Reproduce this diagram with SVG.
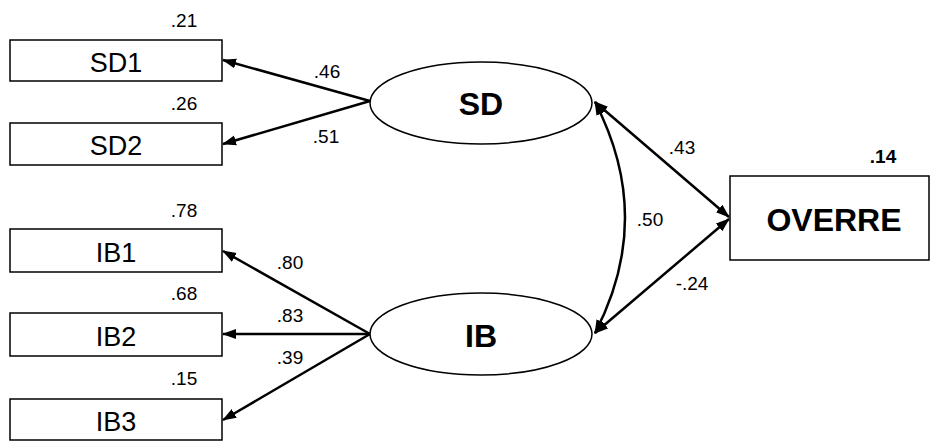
<svg xmlns="http://www.w3.org/2000/svg" width="931" height="441" viewBox="0 0 931 441">
<style>
.box{fill:#fff;stroke:#000;stroke-width:1.5}
.lat{fill:#fff;stroke:#000;stroke-width:1.5}
.lbl{font-family:"Liberation Sans",Arial,sans-serif;font-size:27px;text-anchor:middle;fill:#000}
.big{font-family:"Liberation Sans",Arial,sans-serif;font-size:32px;font-weight:bold;text-anchor:middle;fill:#000}
.num{font-family:"Liberation Sans",Arial,sans-serif;font-size:19px;text-anchor:middle;fill:#000}
.edge{fill:none;stroke:#000;stroke-width:2.5}
</style>
<defs>
<marker id="ah" markerUnits="userSpaceOnUse" markerWidth="14" markerHeight="12" refX="13" refY="5" orient="auto-start-reverse" viewBox="0 0 14 10">
<path d="M0,0 L14,5 L0,10 Z" fill="#000"/>
</marker>
</defs>
<rect width="931" height="441" fill="#fff"/>
<g id="connectors">
<line class="edge" x1="370" y1="101" x2="223" y2="60" marker-end="url(#ah)"/>
<line class="edge" x1="370" y1="101" x2="223" y2="144" marker-end="url(#ah)"/>
<line class="edge" x1="370" y1="334" x2="223" y2="251" marker-end="url(#ah)"/>
<line class="edge" x1="370" y1="334" x2="223" y2="334" marker-end="url(#ah)"/>
<line class="edge" x1="370" y1="334" x2="223" y2="420" marker-end="url(#ah)"/>
<path class="edge" d="M595,102 Q655,218 595,333" marker-start="url(#ah)" marker-end="url(#ah)"/>
<line class="edge" x1="595" y1="102" x2="729" y2="217" marker-start="url(#ah)" marker-end="url(#ah)"/>
<line class="edge" x1="595" y1="333" x2="729" y2="219" marker-start="url(#ah)" marker-end="url(#ah)"/>
<text class="num" x="327" y="78">.46</text>
<text class="num" x="326" y="143">.51</text>
<text class="num" x="290" y="269">.80</text>
<text class="num" x="290" y="322">.83</text>
<text class="num" x="290" y="364">.39</text>
<text class="num" x="682" y="154">.43</text>
<text class="num" x="650" y="226">.50</text>
<text class="num" x="692" y="290">-.24</text>
</g>
<g id="SD1"><rect class="box" x="10" y="40" width="212" height="41"/><text class="lbl" x="116" y="72">SD1</text><text class="num" x="184" y="27">.21</text></g>
<g id="SD2"><rect class="box" x="10" y="123" width="212" height="42"/><text class="lbl" x="116" y="155">SD2</text><text class="num" x="184" y="110">.26</text></g>
<g id="IB1"><rect class="box" x="10" y="229" width="212" height="43"/><text class="lbl" x="116" y="262">IB1</text><text class="num" x="184" y="217">.78</text></g>
<g id="IB2"><rect class="box" x="10" y="313" width="212" height="43"/><text class="lbl" x="116" y="346">IB2</text><text class="num" x="184" y="300">.68</text></g>
<g id="IB3"><rect class="box" x="10" y="399" width="212" height="41"/><text class="lbl" x="116" y="431">IB3</text><text class="num" x="184" y="385">.15</text></g>
<g id="SD"><ellipse class="lat" cx="481" cy="103" rx="111" ry="41"/><text class="big" x="481" y="115">SD</text></g>
<g id="IB"><ellipse class="lat" cx="481" cy="334" rx="111" ry="41"/><text class="big" x="481" y="347">IB</text></g>
<g id="OVERRE"><rect class="box" x="730" y="176" width="199" height="84"/><text class="big" x="834" y="231">OVERRE</text><text class="num" x="883" y="163" font-weight="bold">.14</text></g>
</svg>
